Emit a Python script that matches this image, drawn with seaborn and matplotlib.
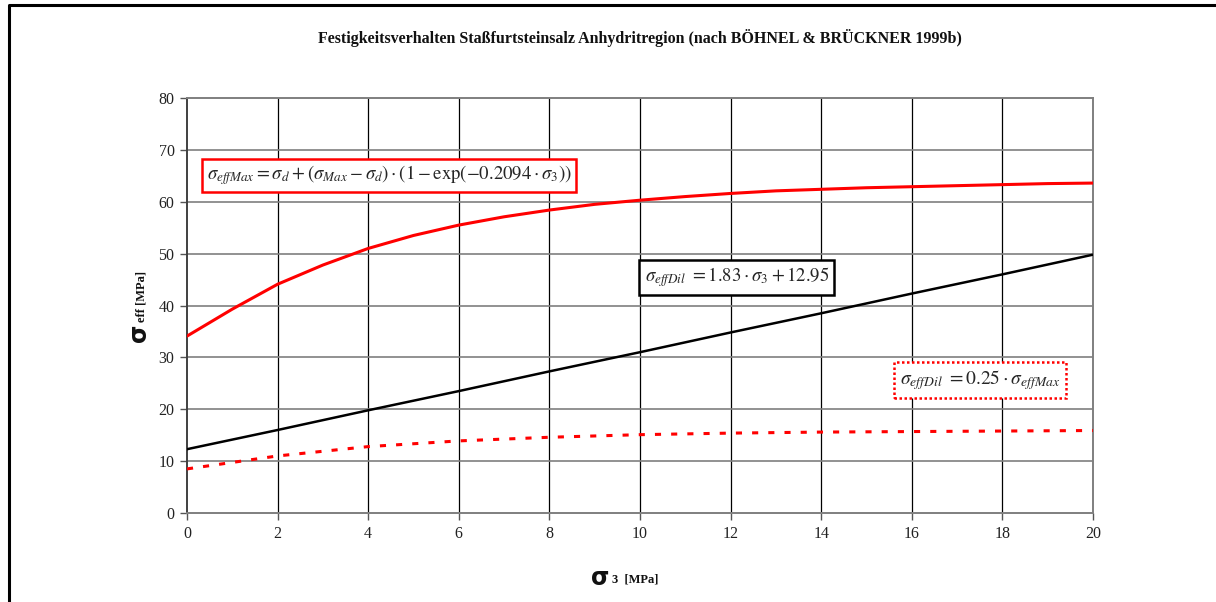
import matplotlib
matplotlib.use("Agg")
import matplotlib.pyplot as plt
from matplotlib.lines import Line2D
import numpy as np
import pandas as pd
import seaborn as sns

# sigma_3 values [MPa]
sigma3_fine = [0, 1, 2, 3, 4, 5, 6, 7, 8, 9, 10, 11, 12, 13, 14, 15, 16, 17, 18, 19, 20]
# sigma_effMax curve [MPa]
sigma_eff_max = [34.1, 39.3, 44.1, 47.8, 51.0, 53.5, 55.5, 57.1, 58.4, 59.5, 60.3,
                 61.0, 61.6, 62.1, 62.4, 62.7, 62.9, 63.1, 63.3, 63.5, 63.6]

sigma3_coarse = [0, 2, 4, 6, 8, 10, 12, 14, 16, 18, 20]
# linear dilatancy boundary [MPa]
sigma_eff_dil_lin = [12.3, 16.0, 19.8, 23.5, 27.3, 31.0, 34.8, 38.5, 42.3, 46.0, 49.8]
# dilatancy boundary as 0.25 * sigma_effMax [MPa]
sigma_eff_dil_quarter = [8.5, 11.0, 12.8, 13.9, 14.6, 15.1, 15.4, 15.6, 15.7, 15.8, 15.9]

x_ticks = [0, 2, 4, 6, 8, 10, 12, 14, 16, 18, 20]
y_ticks = [0, 10, 20, 30, 40, 50, 60, 70, 80]

title = "Festigkeitsverhalten Staßfurtsteinsalz Anhydritregion (nach BÖHNEL & BRÜCKNER 1999b)"

sns.set_theme(style="white")
plt.rcParams["font.family"] = ["Liberation Serif", "DejaVu Serif"]
plt.rcParams["mathtext.fontset"] = "stix"

W, H = 1216, 602
fig = plt.figure(figsize=(W / 100, H / 100), dpi=100)
ax = fig.add_axes([187 / W, 1 - 513 / H, (1093 - 187) / W, (513 - 98) / H])

df_max = pd.DataFrame({"s3": sigma3_fine, "val": sigma_eff_max})
df_lin = pd.DataFrame({"s3": sigma3_coarse, "val": sigma_eff_dil_lin})
df_q = pd.DataFrame({"s3": sigma3_coarse, "val": sigma_eff_dil_quarter})

sns.lineplot(data=df_max, x="s3", y="val", ax=ax, color="#ff0000", lw=2.2, zorder=3)
sns.lineplot(data=df_lin, x="s3", y="val", ax=ax, color="black", lw=1.8, zorder=3)
sns.lineplot(data=df_q, x="s3", y="val", ax=ax, color="#ff0000", lw=2.2,
             linestyle=(0, (2.0, 3.3)), zorder=3)

ax.set_xlim(0, 20)
ax.set_ylim(0, 80)
ax.set_xticks(x_ticks)
ax.set_yticks(y_ticks)
ax.set_xticklabels([str(v) for v in x_ticks])
ax.set_yticklabels([str(v) for v in y_ticks])
ax.set_xlabel("")
ax.set_ylabel("")

# grid: vertical black, horizontal grey
for xv in x_ticks[1:-1]:
    ax.axvline(xv, color="black", lw=0.9, zorder=1)
for yv in y_ticks[1:-1]:
    ax.axhline(yv, color="#7f7f7f", lw=1.2, zorder=1)

for side in ["left", "right", "top", "bottom"]:
    ax.spines[side].set_visible(True)
    ax.spines[side].set_color("#7f7f7f")
    ax.spines[side].set_linewidth(1.4)
ax.spines["left"].set_color("#404040")

ax.tick_params(axis="both", which="major", direction="out", length=5, width=1.0,
               color="#555555", labelsize=11.5, labelcolor="#222222", pad=4,
               left=True, bottom=True)

# title
fig.text(640 / W, 1 - 38 / H, title, ha="center", va="center",
         fontsize=11.5, fontweight="bold", color="#111111")

# axis labels
fig.text(600 / W, 1 - 578 / H, "σ", ha="center", va="center", fontsize=17,
         fontweight="bold", family=["DejaVu Sans"], color="#111111")
fig.text(612 / W, 1 - 580 / H, "3  [MPa]", ha="left", va="center", fontsize=9,
         fontweight="bold", color="#111111")
fig.text(139 / W, 1 - 333 / H, "σ", ha="center", va="center", fontsize=17,
         fontweight="bold", family=["DejaVu Sans"], rotation=90, color="#111111")
fig.text(142 / W, 1 - 322 / H, "eff [MPa]", ha="left", va="center", fontsize=9,
         fontweight="bold", rotation=90, rotation_mode="anchor", color="#111111")

# formula boxes
ax.text(4.46, 65.1,
        r"$\sigma_{effMax} = \sigma_d + \left(\sigma_{Max} - \sigma_d\right)\cdot\left(1 - \mathrm{exp}\left(- 0.2094\cdot\sigma_3\right)\right)$",
        ha="center", va="center", fontsize=13.5, zorder=5,
        bbox=dict(boxstyle="square,pad=0.24", fc="white", ec="#ff0000", lw=1.8))
ax.text(12.14, 45.4, r"$\sigma_{effDil}\ = 1.83\cdot\sigma_3 + 12.95$",
        ha="center", va="center", fontsize=13.5, zorder=5,
        bbox=dict(boxstyle="square,pad=0.28", fc="white", ec="black", lw=1.8))
ax.text(17.5, 25.6, r"$\sigma_{effDil}\ = 0.25\cdot\sigma_{effMax}$",
        ha="center", va="center", fontsize=14, zorder=5,
        bbox=dict(boxstyle="square,pad=0.3", fc="white", ec="#ff0000", lw=1.8,
                  linestyle=(0, (1, 1))))

# outer frame (top and left)
fig.add_artist(Line2D([9 / W, 9 / W, 1.0], [0.0, 1 - 5 / H, 1 - 5 / H],
                      transform=fig.transFigure, color="black", lw=2.2))

fig.savefig("out.png", dpi=100)
